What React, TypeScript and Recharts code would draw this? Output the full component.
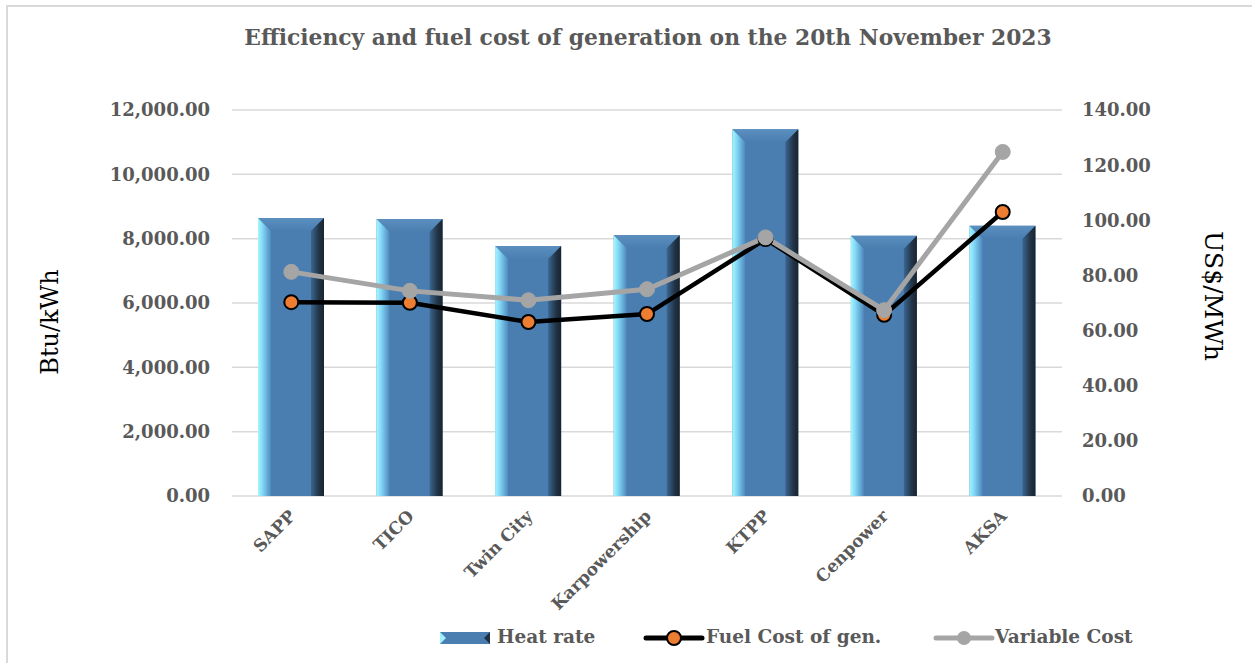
import React from 'react';
import { ComposedChart, Bar, Line, XAxis, YAxis, CartesianGrid } from 'recharts';

const categories = ['SAPP', 'TICO', 'Twin City', 'Karpowership', 'KTPP', 'Cenpower', 'AKSA'];
const heatRate = [8640, 8610, 7770, 8110, 11400, 8090, 8400];
const fuelCost = [70.3, 70.1, 63.1, 66.0, 93.2, 65.7, 103.0];
const variableCost = [81.3, 74.4, 71.0, 75.0, 93.8, 67.4, 124.8];
const leftTicks = [0, 2000, 4000, 6000, 8000, 10000, 12000];
const rightTicks = [0, 20, 40, 60, 80, 100, 120, 140];

const data = categories.map((c, i) => ({
  name: c,
  heat: heatRate[i],
  fuel: fuelCost[i],
  variable: variableCost[i],
}));

const FONT = '"DejaVu Serif", serif';
const GREY = '#595959';

const fmt = (v: number) =>
  v.toLocaleString('en-US', { minimumFractionDigits: 2, maximumFractionDigits: 2 });

const BevelBar = (props: any) => {
  const { x, y, width, height } = props;
  if (height <= 0) return null;
  const b = 13;
  return (
    <g>
      <rect x={x} y={y} width={width} height={height} fill="#4a7eb1" />
      <polygon
        points={`${x},${y} ${x + width},${y} ${x + width - b},${y + b} ${x + b},${y + b}`}
        fill="url(#topBevel)"
      />
      <polygon
        points={`${x},${y} ${x + b},${y + b} ${x + b},${y + height} ${x},${y + height}`}
        fill="url(#leftBevel)"
      />
      <polygon
        points={`${x + width},${y} ${x + width - b},${y + b} ${x + width - b},${y + height} ${x + width},${y + height}`}
        fill="url(#rightBevel)"
      />
    </g>
  );
};

const XTick = (props: any) => {
  const { x, y, payload } = props;
  return (
    <g transform={`translate(${x + 1},${y + 15})`}>
      <text
        textAnchor="end"
        transform="rotate(-45)"
        fontFamily={FONT}
        fontWeight="bold"
        fontSize={17}
        fill={GREY}
        dy="0.35em"
      >
        {payload.value}
      </text>
    </g>
  );
};

const legendText: React.CSSProperties = {
  position: 'absolute',
  fontFamily: FONT,
  fontWeight: 'bold',
  fontSize: 18.5,
  color: GREY,
  top: 624,
  whiteSpace: 'nowrap',
  lineHeight: '26px',
};

export default function App() {
  return (
    <div style={{ position: 'absolute', left: 0, top: 0, width: 1252, height: 663, background: '#fff', overflow: 'hidden' }}>
      <div
        style={{
          position: 'absolute',
          left: 6,
          top: 5,
          width: 1260,
          height: 670,
          borderLeft: '2px solid #d9d9d9',
          borderTop: '2px solid #d9d9d9',
        }}
      />
      <ComposedChart
        width={1252}
        height={663}
        data={data}
        margin={{ top: 110, right: 0, left: 0, bottom: 67 }}
        style={{ position: 'absolute', left: 0, top: 0 }}
      >
        <defs>
          <linearGradient id="leftBevel" x1="0" y1="0" x2="1" y2="0">
            <stop offset="0%" stopColor="#a6f6ff" />
            <stop offset="35%" stopColor="#82d8f6" />
            <stop offset="100%" stopColor="#4f88bd" />
          </linearGradient>
          <linearGradient id="rightBevel" x1="0" y1="0" x2="1" y2="0">
            <stop offset="0%" stopColor="#3b6690" />
            <stop offset="60%" stopColor="#223548" />
            <stop offset="100%" stopColor="#19232e" />
          </linearGradient>
          <linearGradient id="topBevel" x1="0" y1="0" x2="0" y2="1">
            <stop offset="0%" stopColor="#5b8fbf" />
            <stop offset="100%" stopColor="#4a7eb1" />
          </linearGradient>
        </defs>
        <CartesianGrid vertical={false} stroke="#d9d9d9" strokeWidth={1.5} yAxisId="left" />
        <XAxis
          dataKey="name"
          height={100}
          axisLine={false}
          tickLine={false}
          tickSize={0}
          interval={0}
          tick={<XTick />}
        />
        <YAxis
          yAxisId="left"
          orientation="left"
          width={232}
          domain={[0, 12000]}
          ticks={leftTicks}
          tickFormatter={fmt}
          axisLine={false}
          tickLine={false}
          tickSize={0}
          tickMargin={22}
          tick={{ fontFamily: FONT, fontWeight: 'bold', fontSize: 18, fill: GREY }}
        />
        <YAxis
          yAxisId="right"
          orientation="right"
          width={190}
          domain={[0, 140]}
          ticks={rightTicks}
          tickFormatter={fmt}
          axisLine={false}
          tickLine={false}
          tickSize={0}
          tickMargin={20}
          tick={{ fontFamily: FONT, fontWeight: 'bold', fontSize: 18, fill: GREY }}
        />
        <Bar
          yAxisId="left"
          dataKey="heat"
          barSize={66}
          shape={<BevelBar />}
          isAnimationActive={false}
        />
        <Line
          yAxisId="right"
          dataKey="fuel"
          stroke="#000000"
          strokeWidth={4.5}
          dot={{ r: 7, fill: '#ed7d31', stroke: '#000', strokeWidth: 2 }}
          activeDot={false}
          isAnimationActive={false}
        />
        <Line
          yAxisId="right"
          dataKey="variable"
          stroke="#a5a5a5"
          strokeWidth={5}
          dot={{ r: 7.5, fill: '#a5a5a5', stroke: '#a5a5a5', strokeWidth: 1 }}
          activeDot={false}
          isAnimationActive={false}
        />
      </ComposedChart>

      <div
        style={{
          position: 'absolute',
          left: 0,
          width: 1296,
          top: 25,
          textAlign: 'center',
          fontFamily: FONT,
          fontWeight: 'bold',
          fontSize: 21.8,
          color: GREY,
          whiteSpace: 'nowrap',
        }}
      >
        Efficiency and fuel cost of generation on the 20th November 2023
      </div>

      <div
        style={{
          position: 'absolute',
          left: 50,
          top: 322,
          transform: 'translate(-50%, -50%) rotate(-90deg)',
          fontFamily: FONT,
          fontSize: 24,
          color: '#000',
          whiteSpace: 'nowrap',
        }}
      >
        Btu/kWh
      </div>
      <div
        style={{
          position: 'absolute',
          left: 1213,
          top: 296,
          transform: 'translate(-50%, -50%) rotate(90deg)',
          fontFamily: FONT,
          fontSize: 25,
          color: '#000',
          whiteSpace: 'nowrap',
        }}
      >
        US$/MWh
      </div>

      <svg style={{ position: 'absolute', left: 438, top: 629 }} width={54} height={18}>
        <rect x={2} y={3} width={50} height={12} fill="#4a7eb1" />
        <polygon points="2,3 8,9 2,15" fill="#9ff0ff" />
        <polygon points="52,3 46,9 52,15" fill="#1f2f40" />
      </svg>
      <div style={{ ...legendText, left: 497 }}>Heat rate</div>

      <svg style={{ position: 'absolute', left: 643, top: 627 }} width={62} height={22}>
        <line x1={3} y1={11} x2={59} y2={11} stroke="#000" strokeWidth={5} strokeLinecap="round" />
        <circle cx={31} cy={11} r={7} fill="#ed7d31" stroke="#000" strokeWidth={2} />
      </svg>
      <div style={{ ...legendText, left: 706 }}>Fuel Cost of gen.</div>

      <svg style={{ position: 'absolute', left: 933, top: 627 }} width={62} height={22}>
        <line x1={3} y1={11} x2={59} y2={11} stroke="#a5a5a5" strokeWidth={5} strokeLinecap="round" />
        <circle cx={31} cy={11} r={7} fill="#a5a5a5" />
      </svg>
      <div style={{ ...legendText, left: 995 }}>Variable Cost</div>
    </div>
  );
}
